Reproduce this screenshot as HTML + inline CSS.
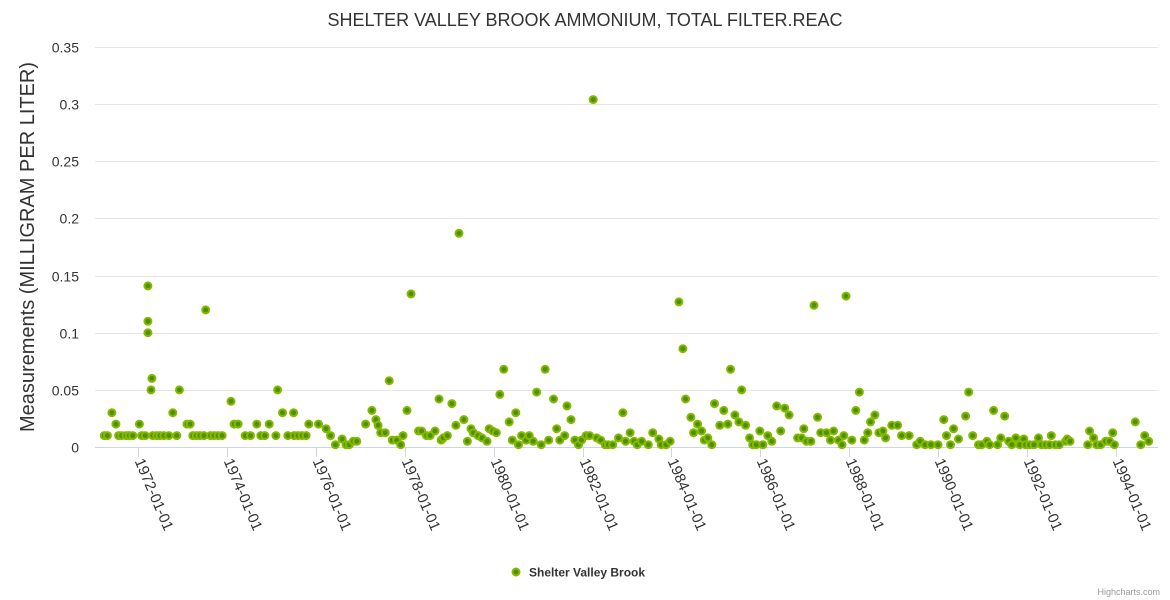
<!DOCTYPE html>
<html><head><meta charset="utf-8">
<style>
html,body{margin:0;padding:0;background:#fff;}
svg{display:block;font-family:"Liberation Sans","DejaVu Sans",sans-serif;}
</style></head>
<body>
<svg id="chart" width="1170" height="600" viewBox="0 0 1170 600">
<text x="585" y="26" text-anchor="middle" font-size="18" fill="#333">SHELTER VALLEY BROOK AMMONIUM, TOTAL FILTER.REAC</text>
<g id="grid"></g>
<g id="yticks"></g>
<text transform="translate(34,247) rotate(-90)" text-anchor="middle" font-size="20" fill="#333">Measurements (MILLIGRAM PER LITER)</text>
<g id="xaxis"></g>
<g id="points"></g>
<g>
<circle cx="516" cy="572" r="3.5" fill="#4c9200" stroke="#86b800" stroke-width="2"/>
<text x="529" y="576.5" font-size="12" font-weight="bold" fill="#333">Shelter Valley Brook</text>
</g>
<text x="1160" y="595" text-anchor="end" font-size="9" fill="#999">Highcharts.com</text>
</svg>
<script>
const yTicks = [0,0.05,0.1,0.15,0.2,0.25,0.3,0.35];
const yTickLabels = ["0","0.05","0.1","0.15","0.2","0.25","0.3","0.35"];
const xTickYears = [1972,1974,1976,1978,1980,1982,1984,1986,1988,1990,1992,1994];
const xTickLabels = ["1972-01-01","1974-01-01","1976-01-01","1978-01-01","1980-01-01","1982-01-01","1984-01-01","1986-01-01","1988-01-01","1990-01-01","1992-01-01","1994-01-01"];
const dates = [1971.24,1971.31,1971.41,1971.50,1971.56,1971.63,1971.73,1971.80,1971.88,1972.03,1972.08,1972.16,1972.22,1972.22,1972.22,1972.29,1972.31,1972.33,1972.42,1972.49,1972.58,1972.69,1972.78,1972.87,1972.93,1973.10,1973.17,1973.23,1973.31,1973.39,1973.48,1973.52,1973.63,1973.71,1973.80,1973.89,1974.09,1974.16,1974.25,1974.41,1974.53,1974.67,1974.76,1974.85,1974.95,1975.10,1975.14,1975.25,1975.37,1975.50,1975.51,1975.60,1975.69,1975.78,1975.84,1976.06,1976.23,1976.33,1976.44,1976.59,1976.68,1976.75,1976.84,1976.92,
1977.12,1977.26,1977.35,1977.40,1977.46,1977.56,1977.65,1977.72,1977.82,1977.91,1977.96,1978.05,1978.14,1978.31,1978.38,1978.49,1978.57,1978.68,1978.77,1978.82,1978.87,1978.96,1979.06,1979.15,1979.22,1979.33,1979.41,1979.49,1979.54,1979.65,1979.74,1979.85,1979.90,1979.98,1980.06,1980.14,1980.23,1980.35,1980.42,1980.50,1980.56,1980.63,1980.73,1980.80,1980.89,1980.97,1981.07,1981.16,1981.24,1981.35,1981.42,1981.49,1981.60,1981.65,1981.74,1981.83,1981.91,1981.98,1982.08,1982.16,1982.24,1982.32,1982.41,1982.51,1982.58,1982.68,1982.81,1982.91,1982.97,1983.07,1983.16,1983.23,
1983.33,1983.48,1983.58,1983.72,1983.77,1983.88,1983.97,1984.17,1984.26,1984.32,1984.44,1984.50,1984.59,1984.68,1984.74,1984.82,1984.91,1984.97,1985.09,1985.18,1985.27,1985.33,1985.43,1985.52,1985.58,1985.67,1985.76,1985.83,1985.91,1985.99,1986.06,1986.17,1986.26,1986.37,1986.46,1986.55,1986.65,1986.84,1986.93,1986.98,1987.04,1987.14,1987.21,1987.29,1987.36,1987.49,1987.58,1987.65,1987.76,1987.84,1987.88,1987.93,1988.06,1988.15,1988.23,1988.34,1988.42,1988.48,1988.58,1988.67,1988.76,1988.82,1988.96,1989.09,1989.18,1989.35,
1989.52,1989.60,1989.71,1989.84,1990.00,1990.13,1990.19,1990.28,1990.35,1990.46,1990.62,1990.69,1990.78,1990.91,1990.98,1991.10,1991.16,1991.25,1991.34,1991.41,1991.50,1991.59,1991.66,1991.75,1991.84,1991.93,1991.97,1992.06,1992.16,1992.26,1992.33,1992.42,1992.51,1992.55,1992.64,1992.73,1992.87,1992.91,1992.97,1993.37,1993.41,1993.50,1993.57,1993.66,1993.77,1993.86,1993.93,1993.97,1994.44,1994.56,1994.65,1994.74];
const values = [0.01,0.01,0.03,0.02,0.01,0.01,0.01,0.01,0.01,0.02,0.01,0.01,0.141,0.11,0.10,0.05,0.06,0.01,0.01,0.01,0.01,0.01,0.03,0.01,0.05,0.02,0.02,0.01,0.01,0.01,0.01,0.12,0.01,0.01,0.01,0.01,0.04,0.02,0.02,0.01,0.01,0.02,0.01,0.01,0.02,0.01,0.05,0.03,0.01,0.03,0.01,0.01,0.01,0.01,0.02,0.02,0.016,0.01,0.002,0.007,0.002,0.002,0.005,0.005,
0.02,0.032,0.024,0.019,0.0125,0.0125,0.058,0.006,0.006,0.002,0.01,0.032,0.134,0.014,0.014,0.01,0.01,0.014,0.042,0.006,0.008,0.01,0.038,0.019,0.187,0.024,0.005,0.016,0.0125,0.01,0.008,0.005,0.016,0.014,0.0125,0.046,0.068,0.022,0.006,0.03,0.002,0.01,0.006,0.01,0.005,0.048,0.002,0.068,0.006,0.042,0.016,0.006,0.01,0.036,0.024,0.006,0.002,0.006,0.01,0.01,0.304,0.008,0.006,0.002,0.002,0.002,0.008,0.03,0.005,0.0125,0.005,0.002,
0.005,0.002,0.0125,0.007,0.002,0.002,0.005,0.127,0.086,0.042,0.026,0.0125,0.02,0.014,0.006,0.008,0.002,0.038,0.019,0.032,0.02,0.068,0.028,0.022,0.05,0.019,0.008,0.002,0.002,0.014,0.002,0.01,0.005,0.036,0.014,0.034,0.028,0.008,0.008,0.016,0.005,0.005,0.124,0.026,0.0125,0.0125,0.006,0.014,0.006,0.002,0.01,0.132,0.006,0.032,0.048,0.006,0.0125,0.022,0.028,0.0125,0.014,0.008,0.019,0.019,0.01,0.01,
0.002,0.005,0.002,0.002,0.002,0.024,0.01,0.002,0.016,0.007,0.027,0.048,0.01,0.002,0.002,0.005,0.002,0.032,0.002,0.008,0.027,0.005,0.002,0.008,0.002,0.007,0.002,0.002,0.002,0.008,0.002,0.002,0.002,0.01,0.002,0.002,0.005,0.007,0.005,0.002,0.014,0.008,0.002,0.002,0.005,0.005,0.0125,0.002,0.022,0.002,0.01,0.005];

const NS = "http://www.w3.org/2000/svg";
const X0 = 95, X1 = 1158, Y0 = 447, Y1 = 47;
const xMin = 1971.03, xMax = 1994.95, yMax = 0.35;
function xs(v){ return X0 + (v - xMin) / (xMax - xMin) * (X1 - X0); }
function ys(v){ return Y0 - v / yMax * (Y0 - Y1); }
function mk(tag, attrs, parent){ const e = document.createElementNS(NS, tag); for (const k in attrs) e.setAttribute(k, attrs[k]); parent.appendChild(e); return e; }

const grid = document.getElementById('grid');
const yt = document.getElementById('yticks');
yTicks.forEach((t, i) => {
  const y = Math.round(ys(t)) + 0.5;
  if (t > 0) {
    const l = mk('line', {x1: X0, x2: X1, y1: y, y2: y, stroke: '#e6e6e6', 'stroke-width': 1}, grid);
    
    
  }
  const tx = mk('text', {x: 79, y: y + 5, 'text-anchor': 'end', 'font-size': 14, fill: '#333'}, yt);
  tx.textContent = yTickLabels[i];
  
  
});

const xa = document.getElementById('xaxis');
const axl = mk('line', {x1: X0, x2: X1, y1: Y0 + 0.5, y2: Y0 + 0.5, stroke: '#ccd6eb', 'stroke-width': 1}, xa);


xTickYears.forEach((yr, i) => {
  const x = Math.round(xs(yr)) + 0.5;
  const tk = mk('line', {x1: x, x2: x, y1: Y0, y2: Y0 + 10, stroke: '#ccd6eb', 'stroke-width': 1}, xa);
  
  
  const tx = mk('text', {x: 0, y: 0, 'font-size': 15, fill: '#333', transform: 'translate(' + (x - 4) + ',' + (Y0 + 14) + ') rotate(67)'}, xa);
  tx.textContent = xTickLabels[i];
  
  
});

const pts = document.getElementById('points');
dates.forEach((d, i) => {
  const c = mk('circle', {cx: xs(d).toFixed(1), cy: ys(values[i]).toFixed(1), r: 3.5, fill: '#4c9200', stroke: '#86b800', 'stroke-width': 2}, pts);
  
  
});
</script>
</body></html>
